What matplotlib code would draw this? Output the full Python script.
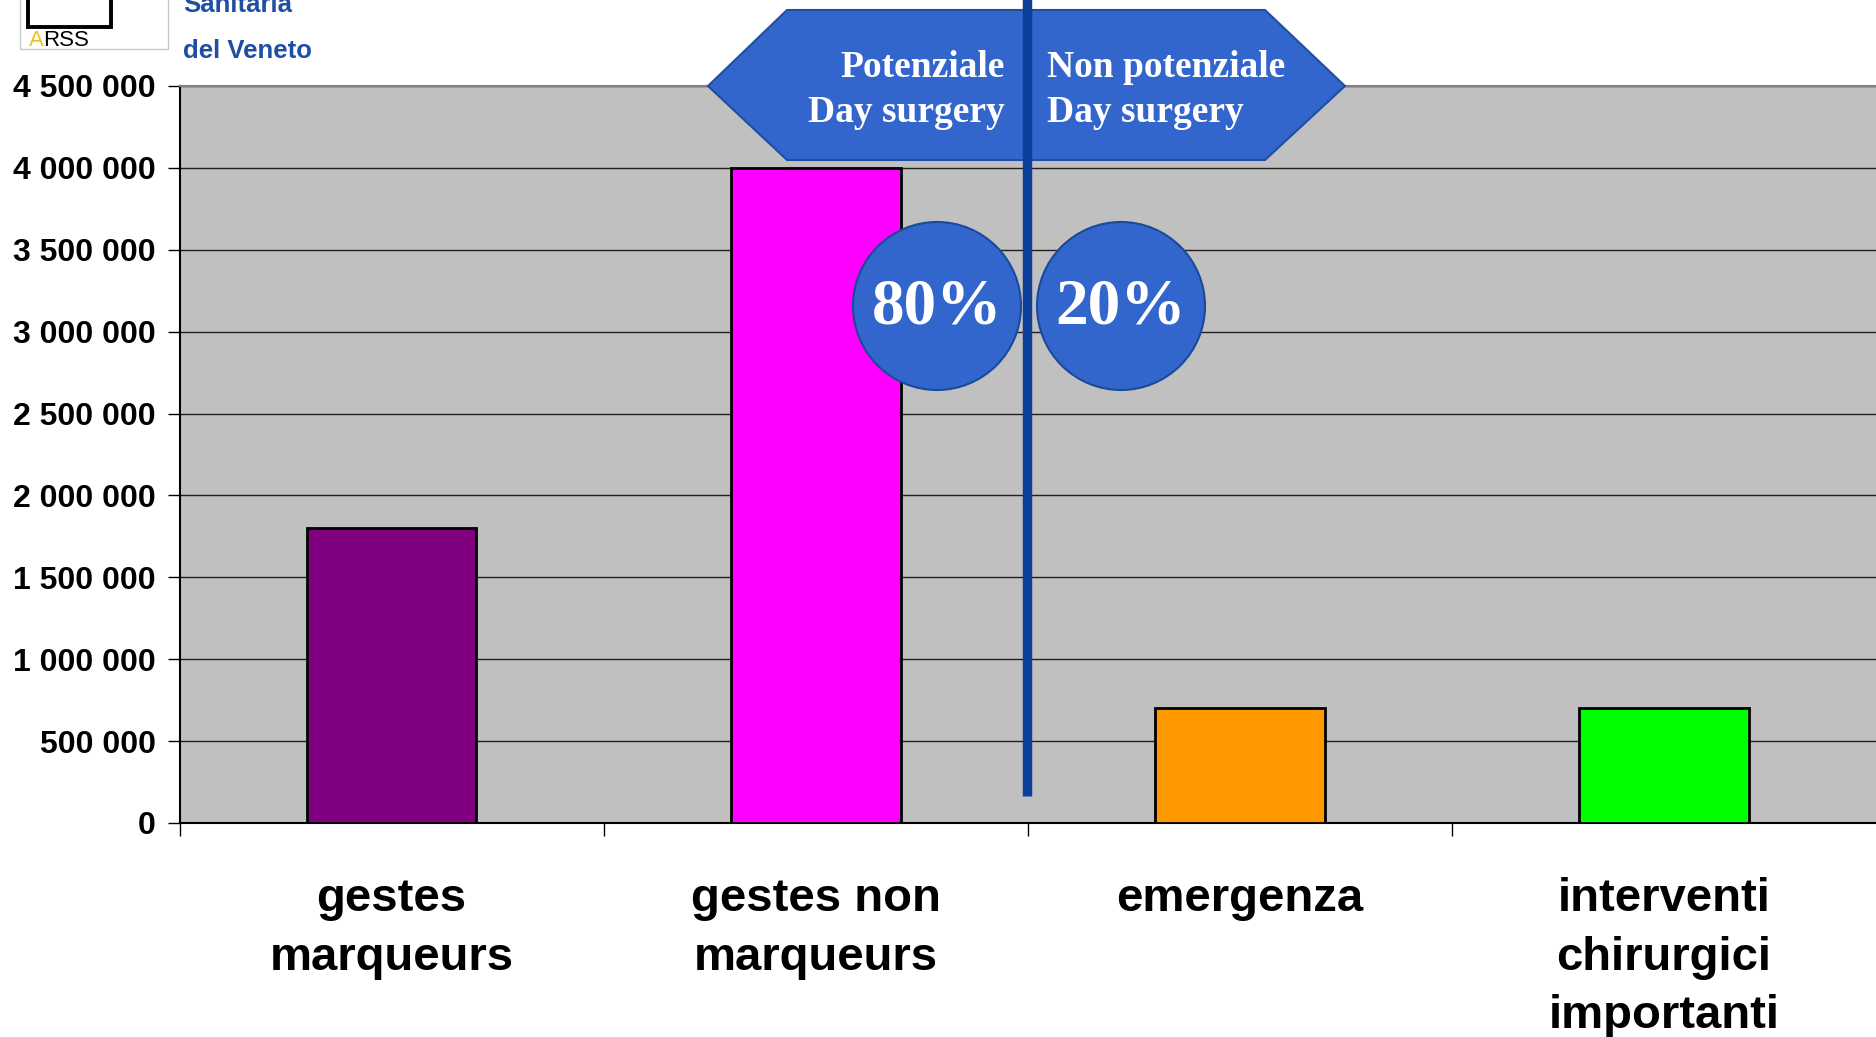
import matplotlib.pyplot as plt
from matplotlib.patches import Polygon, Circle, Rectangle
from matplotlib.ticker import FixedLocator, FuncFormatter

# data
categories = ["gestes\nmarqueurs", "gestes non\nmarqueurs", "emergenza",
              "interventi\nchirurgici\nimportanti"]
values = [1800000, 4000000, 700000, 700000]
colors = ["#800080", "#FF00FF", "#FF9900", "#00FF00"]
yticks = [0, 500000, 1000000, 1500000, 2000000, 2500000, 3000000,
          3500000, 4000000, 4500000]
shares = ["80%", "20%"]
side_labels = ["Potenziale\nDay surgery", "Non potenziale\nDay surgery"]

W, H = 1876, 1037
fig = plt.figure(figsize=(W / 100, H / 100), dpi=100)
fig.patch.set_facecolor("white")

ax = fig.add_axes([179.5 / W, 214 / H, 1 - 179.5 / W, (823 - 86) / H])
ax.set_facecolor("#C0C0C0")
x = range(len(categories))
ax.bar(x, values, width=0.4, color=colors, edgecolor="black", linewidth=2, zorder=3)
ax.set_xlim(-0.5, 3.5)
ax.set_ylim(0, 4500000)

ax.yaxis.set_major_locator(FixedLocator(yticks))
ax.yaxis.set_major_formatter(FuncFormatter(lambda v, p: f"{v:,.0f}".replace(",", " ")))
ax.grid(axis="y", color="#202020", linewidth=1, zorder=1)
ax.tick_params(axis="y", length=9, width=1, pad=8, labelsize=23)
for t in ax.get_yticklabels():
    t.set_fontweight("bold")
    t.set_family("Liberation Sans")

ax.set_xticks(list(x))
ax.set_xticklabels(categories, fontsize=34, fontweight="bold",
                   family="Liberation Sans", linespacing=1.43)
ax.tick_params(axis="x", length=0, pad=39)
ax.set_xticks([-0.5, 0.5, 1.5, 2.5], minor=True)
ax.tick_params(axis="x", which="minor", length=9, width=1)

ax.spines["right"].set_visible(False)
ax.spines["top"].set_color("#808080")
ax.spines["top"].set_linewidth(1.5)
ax.spines["left"].set_linewidth(1.5)
ax.spines["bottom"].set_linewidth(1.5)

# overlay in pixel coordinates
ov = fig.add_axes([0, 0, 1, 1], zorder=10)
ov.set_xlim(0, W)
ov.set_ylim(H, 0)
ov.axis("off")
ov.patch.set_alpha(0)

# logo
ov.add_patch(Rectangle((20, -5), 148, 54, facecolor="white", edgecolor="#C8C8C8", lw=1))
ov.add_patch(Rectangle((28, -10), 83, 37, facecolor="none", edgecolor="black", lw=2.8))
ov.text(29, 46, "A", color="#F0C020", fontsize=16, family="Liberation Sans", va="baseline")
ov.text(43.5, 46, "RSS", color="black", fontsize=16, family="Liberation Sans", va="baseline")
blue_txt = "#1F4FA3"
ov.text(183, 12, "Sanitaria", color=blue_txt, fontsize=18.5, fontweight="bold",
        family="Liberation Sans", va="baseline")
ov.text(183, 58, "del Veneto", color=blue_txt, fontsize=18.5, fontweight="bold",
        family="Liberation Sans", va="baseline")

# hexagon banner
hexa = [(708, 86), (787, 10), (1265, 10), (1345, 86), (1265, 160), (787, 160)]
ov.add_patch(Polygon(hexa, closed=True, facecolor="#3366CC", edgecolor="#1F4FA0", lw=1.5))
ov.text(1005, 90, side_labels[0], color="white", fontsize=27, fontweight="bold",
        family="Liberation Serif", ha="right", va="center", multialignment="right",
        linespacing=1.34)
ov.text(1047, 90, side_labels[1], color="white", fontsize=27, fontweight="bold",
        family="Liberation Serif", ha="left", va="center", multialignment="left",
        linespacing=1.34)

# divider
ov.plot([1027, 1027], [-5, 796], color="#0B3F99", lw=6.8, solid_capstyle="butt")

# circles
for cx, lab in zip([937, 1121], shares):
    ov.add_patch(Circle((cx, 306), 84, facecolor="#3366CC", edgecolor="#1A4A9A", lw=1.5))
    ov.text(cx, 308, lab, color="white", fontsize=47, fontweight="bold",
            family="Liberation Serif", ha="center", va="center")

fig.savefig("out.png", dpi=100)
